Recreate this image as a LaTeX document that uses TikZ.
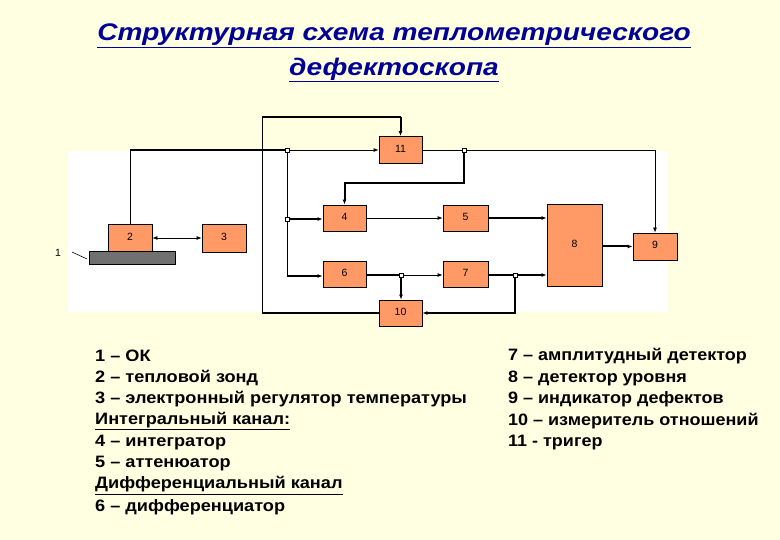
\documentclass[tikz,border=0pt]{standalone}
\usepackage{fontspec}
\setmainfont{Liberation Sans}
\usetikzlibrary{arrows.meta}
\definecolor{bg}{RGB}{255,255,226}
\definecolor{boxfill}{RGB}{255,153,102}
\definecolor{titleblue}{RGB}{0,0,150}
\definecolor{plate}{RGB}{112,112,112}
\newcommand{\wide}[2]{\scalebox{#1}[1]{#2}}
\newcommand{\up}[1]{\raisebox{3pt}{#1}}
\begin{document}
\begin{tikzpicture}[x=1pt,y=-1pt,
  box/.style={draw=black, line width=0.8pt, fill=boxfill, inner sep=0pt, font=\fontsize{10.5}{12}\selectfont},
  thn/.style={line width=0.8pt},
  thk/.style={line width=2pt},
  arr/.style={-{Latex[length=5pt,width=4pt]}},
  jn/.style={draw, fill=white, line width=0.6pt, minimum size=4pt, inner sep=0pt},
  leg/.style={anchor=west, inner sep=0pt, font=\fontsize{16.5}{19}\selectfont\bfseries},
  ttl/.style={inner sep=0pt, text=titleblue, font=\fontsize{24}{28}\selectfont\bfseries\itshape}]
\useasboundingbox (0,0) rectangle (780,540);
\fill[bg] (0,0) rectangle (780,540);
\fill[white] (68,151) rectangle (668,312);

% title
\node[ttl] (t1) at (394,36) {\wide{1.17}{\underline{Структурная схема теплометрического}}};
\node[ttl] (t2) at (394,70) {\wide{1.17}{\underline{дефектоскопа}}};

% boxes
\node[box, minimum width=44pt, minimum height=27pt] (n2) at (130,238) {\up{2}};
\node[draw=black, line width=0.6pt, fill=plate, minimum width=86pt, minimum height=13pt, inner sep=0pt] (p1) at (132,257.5) {};
\node[box, minimum width=44pt, minimum height=28pt] (n3) at (224,238) {\up{3}};
\node[box, minimum width=43pt, minimum height=27pt] (n11) at (400.5,150) {\up{11}};
\node[box, minimum width=43pt, minimum height=26pt] (n4) at (344.5,218) {\up{4}};
\node[box, minimum width=45pt, minimum height=26pt] (n5) at (465.5,218) {\up{5}};
\node[box, minimum width=43pt, minimum height=26pt] (n6) at (344.5,274) {\up{6}};
\node[box, minimum width=45pt, minimum height=26pt] (n7) at (465.5,274) {\up{7}};
\node[box, minimum width=55pt, minimum height=82pt] (n8) at (574.5,245) {\up{8}};
\node[box, minimum width=44pt, minimum height=27pt] (n9) at (655,246.5) {\up{9}};
\node[box, minimum width=43pt, minimum height=26pt] (n10) at (400.5,313) {\up{10}};

% label 1
\node[inner sep=0pt, font=\fontsize{10.5}{12}\selectfont] (l1) at (58,253) {1};
\coordinate (l1a) at (72,252);
\coordinate (l1b) at (87,259);
\draw[line width=0.6pt] (l1a) -- (l1b);

% junction coordinates
\coordinate (ja) at (287,150);
\coordinate (jb) at (287,219);
\coordinate (jbb) at (287,276);
\coordinate (jc) at (464,150);
\coordinate (c4) at (464,183);
\coordinate (jd) at (401,275);
\coordinate (je) at (515,275);
\coordinate (lt) at (262,117);
\coordinate (lb) at (262,313);
\coordinate (rt) at (400.5,117);

% connectors
\draw[thn] (n2.north) -- (n2.north|-ja);
\draw[thk] (n2.north|-ja) -- (ja);
\draw[thn,arr] (ja) -- (n11.west);
\draw[thn] (ja) -- (jbb);
\draw[thk,arr] (jb) -- (jb-|n4.west);
\draw[thk,arr] (jbb) -- (jbb-|n6.west);
\draw[thn,{Latex[length=5pt,width=4pt]}-{Latex[length=5pt,width=4pt]}] (n2.east) -- (n3.west);
\draw[thk] (n10.west) -- (lb);
\draw[thn] (lb) -- (lt);
\draw[thk] (lt) -- (rt);
\draw[thk,arr] (rt) -- (n11.north);
\draw[thn] (n11.east) -- (jc);
\draw[thn,arr] (jc) -| (n9.north);
\draw[thk,arr] (jc) -- (c4) -| (n4.north);
\draw[thn,arr] (n4.east) -- (n5.west);
\draw[thk,arr] (n5.east) -- (n5.east-|n8.west);
\draw[thk,arr] (n8.east|-n9) -- (n9.west);
\draw[thk] (n6.east|-jd) -- (jd);
\draw[thn,arr] (jd) -- (jd-|n7.west);
\draw[thk,arr] (jd) -- (jd|-n10.north);
\draw[thk] (n7.east|-je) -- (je);
\draw[thk,arr] (je) -- (je-|n8.west);
\draw[thk,arr] (je) |- (n10.east);

% junction markers
\foreach \j in {ja,jb,jc,jd,je} \node[jn] at (\j) {};

% legend
\node[leg] (a1) at (95,356) {\wide{1.1}{1 – ОК}};
\node[leg] (a2) at (95,378) {\wide{1.1}{2 – тепловой зонд}};
\node[leg] (a3) at (95,399.5) {\wide{1.1}{3 – электронный регулятор температуры}};
\node[leg] (a4) at (95,421) {\wide{1.1}{\underline{Интегральный канал:}}};
\node[leg] (a5) at (95,442.5) {\wide{1.1}{4 – интегратор}};
\node[leg] (a6) at (95,464) {\wide{1.1}{5 – аттенюатор}};
\node[leg] (a7) at (95,485.5) {\wide{1.1}{\underline{Дифференциальный канал}}};
\node[leg] (a8) at (95,507) {\wide{1.1}{6 – дифференциатор}};
\node[leg] (b1) at (508,356) {\wide{1.09}{7 – амплитудный детектор}};
\node[leg] (b2) at (508,378) {\wide{1.09}{8 – детектор уровня}};
\node[leg] (b3) at (508,399.5) {\wide{1.09}{9 – индикатор дефектов}};
\node[leg] (b4) at (508,421) {\wide{1.09}{10 – измеритель отношений}};
\node[leg] (b5) at (508,442.5) {\wide{1.09}{11 - тригер}};
\end{tikzpicture}
\end{document}
